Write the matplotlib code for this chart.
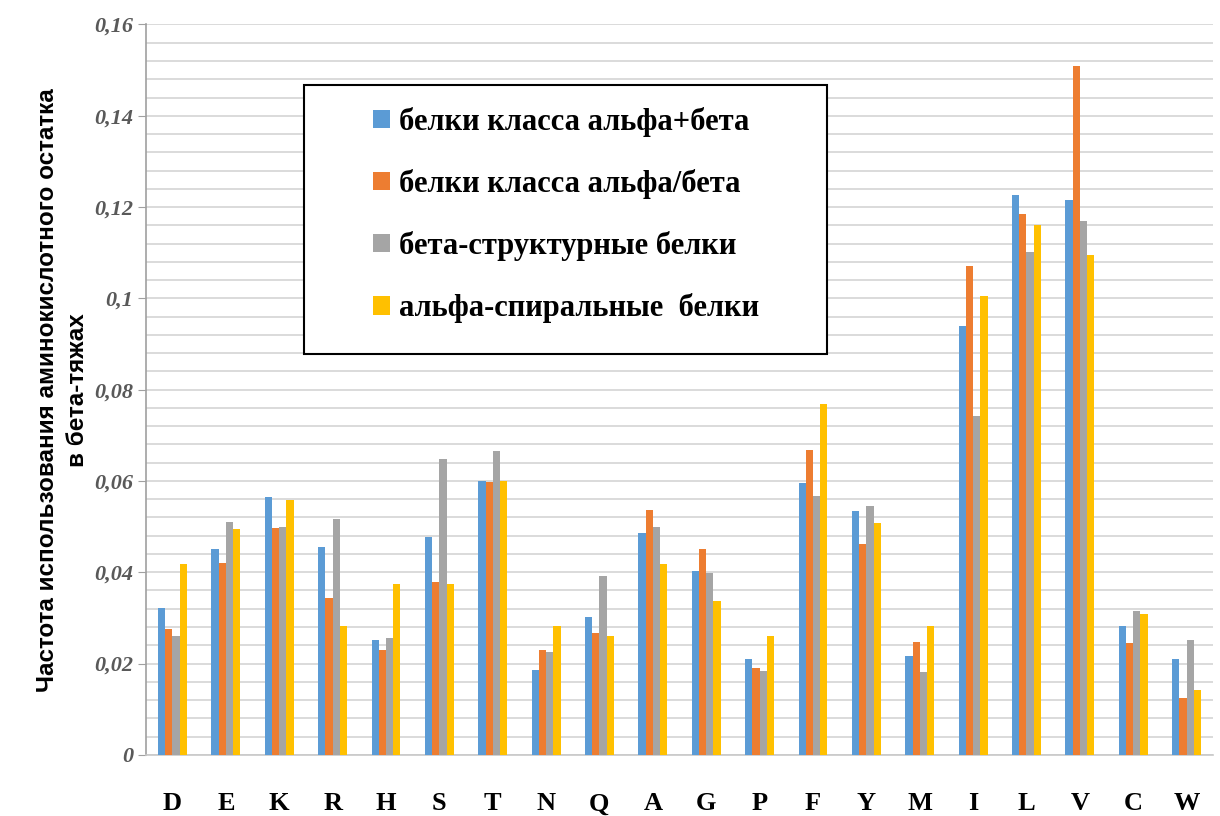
import matplotlib
matplotlib.use("Agg")
import matplotlib.pyplot as plt
import numpy as np
from matplotlib.ticker import MultipleLocator, FuncFormatter
from matplotlib.patches import Rectangle

categories = ["D", "E", "K", "R", "H", "S", "T", "N", "Q", "A",
              "G", "P", "F", "Y", "M", "I", "L", "V", "C", "W"]

alpha_plus_beta = [0.0321, 0.0451, 0.0565, 0.0455, 0.0252, 0.0477, 0.0600, 0.0185, 0.0302, 0.0486,
                   0.0402, 0.0210, 0.0596, 0.0534, 0.0216, 0.0939, 0.1227, 0.1215, 0.0282, 0.0209]
alpha_slash_beta = [0.0276, 0.0421, 0.0497, 0.0344, 0.0230, 0.0378, 0.0598, 0.0230, 0.0267, 0.0536,
                    0.0451, 0.0191, 0.0668, 0.0461, 0.0247, 0.1071, 0.1185, 0.1509, 0.0244, 0.0125]
beta_struct = [0.0260, 0.0509, 0.0500, 0.0517, 0.0256, 0.0649, 0.0665, 0.0226, 0.0391, 0.0500,
               0.0398, 0.0183, 0.0566, 0.0546, 0.0181, 0.0743, 0.1101, 0.1169, 0.0314, 0.0251]
alpha_helix = [0.0417, 0.0494, 0.0559, 0.0283, 0.0375, 0.0375, 0.0600, 0.0283, 0.0260, 0.0417,
               0.0337, 0.0260, 0.0768, 0.0508, 0.0282, 0.1005, 0.1161, 0.1096, 0.0308, 0.0141]

series_names = ["белки класса альфа+бета", "белки класса альфа/бета",
                "бета-структурные белки", "альфа-спиральные  белки"]
series_values = [alpha_plus_beta, alpha_slash_beta, beta_struct, alpha_helix]
colors = ["#5B9BD5", "#ED7D31", "#A5A5A5", "#FFC000"]

fig = plt.figure(figsize=(12.2, 8.16), dpi=100)
ax = fig.add_axes([0.1195, 0.075, 0.875, 0.895])

x = np.arange(len(categories))
w = 0.135
for i, (name, vals, c) in enumerate(zip(series_names, series_values, colors)):
    ax.bar(x + (i - 1.5) * w, vals, width=w, color=c, label=name, zorder=3)

ax.set_xlim(-0.5, len(categories) - 0.5)
ax.set_ylim(0, 0.16)
ax.yaxis.set_major_locator(MultipleLocator(0.02))
ax.yaxis.set_minor_locator(MultipleLocator(0.004))
ax.grid(which="both", axis="y", color="#D4D4D4", linewidth=1.2, zorder=0)
ax.set_axisbelow(True)

def fmt(v, pos):
    if abs(v) < 1e-9:
        return "0"
    s = ("%.2f" % v).rstrip("0")
    return s.replace(".", ",")
ax.yaxis.set_major_formatter(FuncFormatter(fmt))

for sp in ["top", "right"]:
    ax.spines[sp].set_visible(False)
ax.spines["left"].set_color("#A0A0A0")
ax.spines["bottom"].set_color("#C8C8C8")
ax.spines["left"].set_linewidth(1.2)
ax.spines["bottom"].set_linewidth(1.2)

ax.tick_params(axis="y", which="major", length=6, color="#A0A0A0", pad=3)
ax.tick_params(axis="y", which="minor", length=0)
ax.tick_params(axis="x", length=0, pad=27)

ax.set_xticks(x)
ax.set_xticklabels(categories, fontfamily="Liberation Serif", fontweight="bold",
                   fontsize=19, color="black")
for lbl in ax.get_yticklabels():
    lbl.set_fontfamily("Liberation Serif")
    lbl.set_fontstyle("italic")
    lbl.set_fontweight("bold")
    lbl.set_fontsize(16)
    lbl.set_color("#595959")

ax.set_ylabel("Частота использования аминокислотного остатка\nв бета-тяжах",
              fontfamily="Liberation Sans", fontweight="bold",
              fontsize=17.5, color="black", labelpad=4, linespacing=1.4)

# legend frame
frame = Rectangle((0.249, 0.566), 0.429, 0.330, transform=fig.transFigure,
                  facecolor="white", edgecolor="black", linewidth=1.5, zorder=4)
fig.patches.append(frame)

leg = fig.legend(loc="upper left", bbox_to_anchor=(0.306, 0.869),
                 bbox_transform=fig.transFigure, frameon=False,
                 prop={"family": "Liberation Serif", "weight": "bold", "size": 22},
                 handlelength=0.55, handleheight=0.55, handletextpad=0.3,
                 labelspacing=1.05, borderpad=0, borderaxespad=0)
leg.set_zorder(5)

fig.savefig("out.png", dpi=100, facecolor="white")
